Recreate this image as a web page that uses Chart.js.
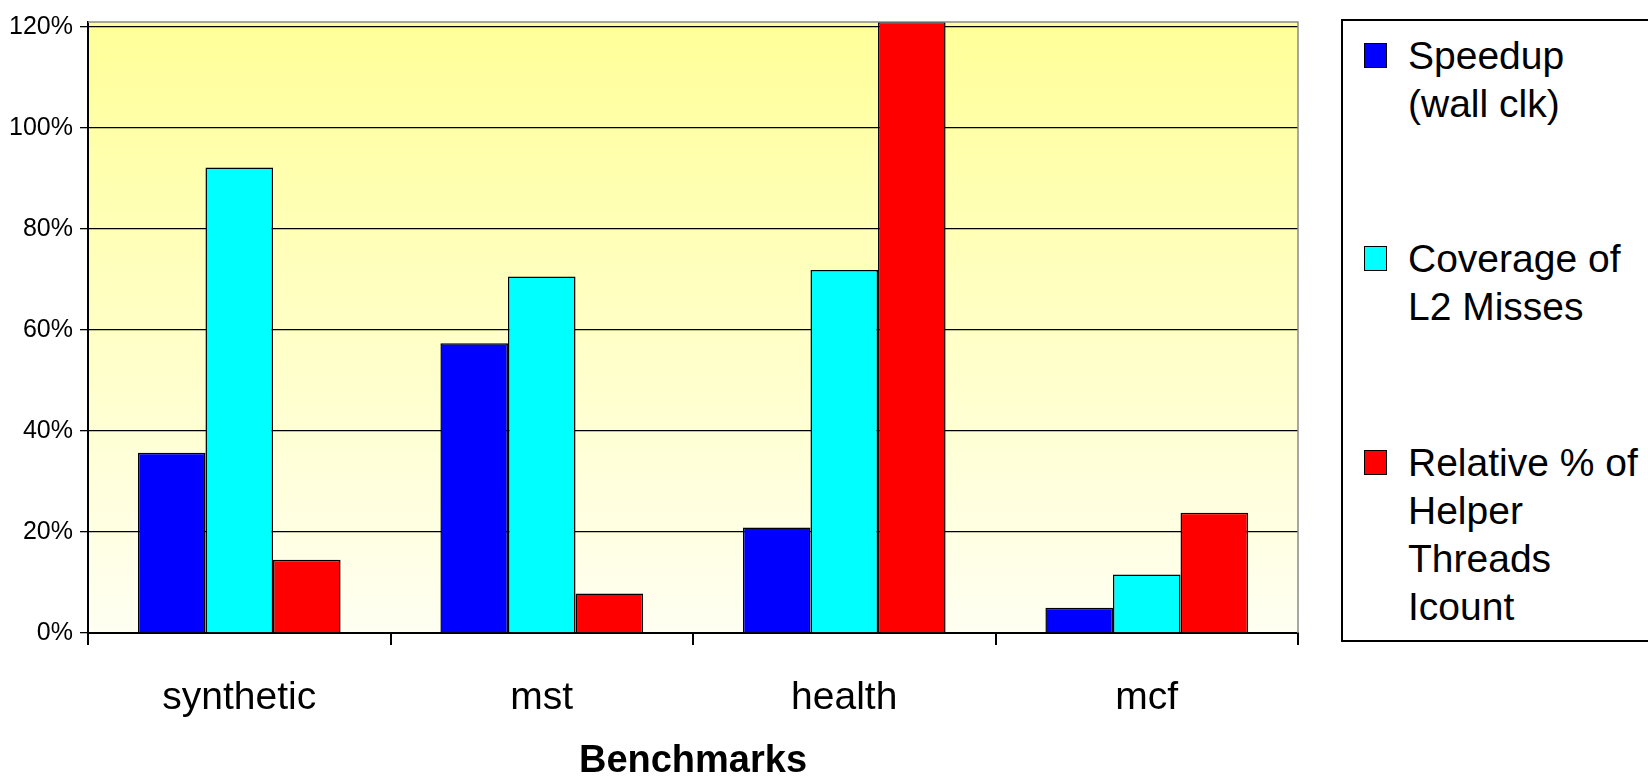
<!DOCTYPE html>
<html lang="en">
<head>
  <meta charset="UTF-8" />
  <title>Benchmarks</title>
  <style>
    body {
      margin: 0;
      background: #ffffff;
      font-family: 'Liberation Sans', Arial, sans-serif;
      overflow: hidden;
    }

    .wrap {
      position: relative;
      width: 1648px;
      height: 776px;
    }

    .legend {
      position: absolute;
      left: 1341px;
      top: 19px;
      width: 340px;
      height: 623px;
      border: 2px solid #000;
      box-sizing: border-box;
      background: #fff;
    }

    .item {
      position: absolute;
      left: 0;
      font-size: 39px;
      line-height: 48px;
      color: #000;
    }

    .swatch {
      position: absolute;
      left: 21px;
      width: 21px;
      height: 23px;
      border: 1.5px solid #000;
    }

    .label {
      position: absolute;
      left: 65px;
      white-space: nowrap;
    }
  </style>
</head>
<body>
  <div class="wrap">
    <canvas id="chart" width="1648" height="776"></canvas>
    <div class="legend" id="legend"></div>
  </div>

  <script src="https://cdn.jsdelivr.net/npm/chart.js"></script>
  <script>
    const categories = ['synthetic', 'mst', 'health', 'mcf'];

    // values in percent
    const speedup = [35.7, 57.4, 20.9, 5.0];
    const coverage = [92.2, 70.6, 71.9, 11.6];
    const icount = [14.5, 7.8, 121, 23.8];

    const seriesNames = [
      ['Speedup', '(wall clk)'],
      ['Coverage of', 'L2 Misses'],
      ['Relative % of', 'Helper', 'Threads', 'Icount']
    ];
    const seriesColors = ['#0000ff', '#00ffff', '#ff0000'];

    const yTicks = [0, 20, 40, 60, 80, 100, 120];

    // yellow fade behind the plot and the grey frame on top / right
    const plotFrame = {
      id: 'plotFrame',
      beforeDraw(chart) {
        const { ctx, chartArea: a } = chart;
        const g = ctx.createLinearGradient(0, a.top, 0, a.bottom);
        g.addColorStop(0, '#ffff99');
        g.addColorStop(1, '#fffff2');
        ctx.save();
        ctx.fillStyle = g;
        ctx.fillRect(a.left, a.top, a.right - a.left, a.bottom - a.top);
        ctx.restore();
      },
      afterDatasetsDraw(chart) {
        const { ctx, chartArea: a } = chart;
        ctx.save();
        ctx.strokeStyle = '#8a8a8a';
        ctx.lineWidth = 1.5;
        ctx.beginPath();
        ctx.moveTo(a.left, a.top);
        ctx.lineTo(a.right, a.top);
        ctx.lineTo(a.right, a.bottom);
        ctx.stroke();
        ctx.restore();
      }
    };

    const ctx = document.getElementById('chart').getContext('2d');

    new Chart(ctx, {
      type: 'bar',
      data: {
        labels: categories,
        datasets: [speedup, coverage, icount].map((d, i) => ({
          label: seriesNames[i].join(' '),
          data: d,
          backgroundColor: seriesColors[i],
          borderColor: '#000000',
          borderWidth: 1.5,
          categoryPercentage: 0.67,
          barPercentage: 1.0
        }))
      },
      options: {
        responsive: false,
        animation: false,
        devicePixelRatio: 1,
        layout: {
          padding: { top: 18, right: 350, bottom: 0, left: 0 }
        },
        plugins: {
          legend: { display: false },
          tooltip: { enabled: false }
        },
        scales: {
          x: {
            offset: true,
            grid: {
              offset: true,
              drawOnChartArea: false,
              color: '#000000',
              lineWidth: 2,
              tickLength: 12
            },
            border: { color: '#000000', width: 2 },
            ticks: {
              color: '#000000',
              padding: 30,
              font: { family: "'Liberation Sans', Arial, sans-serif", size: 39 }
            },
            title: {
              display: true,
              text: 'Benchmarks',
              color: '#000000',
              padding: { top: 0, bottom: -8 },
              font: { family: "'Liberation Sans', Arial, sans-serif", size: 38, weight: 'bold' }
            },
            afterFit(scale) {
              scale.height = 143;
            }
          },
          y: {
            min: 0,
            max: 121,
            grid: {
              color: '#000000',
              lineWidth: 1.3,
              tickLength: 8
            },
            border: { color: '#000000', width: 2 },
            afterBuildTicks(scale) {
              scale.ticks = yTicks.map(v => ({ value: v }));
            },
            ticks: {
              color: '#000000',
              padding: 7,
              font: { family: "'Liberation Sans', Arial, sans-serif", size: 25 },
              callback: v => v + '%'
            },
            afterFit(scale) {
              scale.width = 88;
            }
          }
        }
      },
      plugins: [plotFrame]
    });

    // legend built as html so the names can wrap like the original
    const legendTops = [30, 233, 437];
    const legend = document.getElementById('legend');
    seriesNames.forEach((lines, i) => {
      const item = document.createElement('div');
      item.className = 'item';
      item.style.top = (legendTops[i] - 19) + 'px';

      const sw = document.createElement('div');
      sw.className = 'swatch';
      sw.style.background = seriesColors[i];
      sw.style.top = '11px';
      item.appendChild(sw);

      const lab = document.createElement('div');
      lab.className = 'label';
      lab.innerHTML = lines.join('<br>');
      item.appendChild(lab);

      legend.appendChild(item);
    });
  </script>
</body>
</html>
